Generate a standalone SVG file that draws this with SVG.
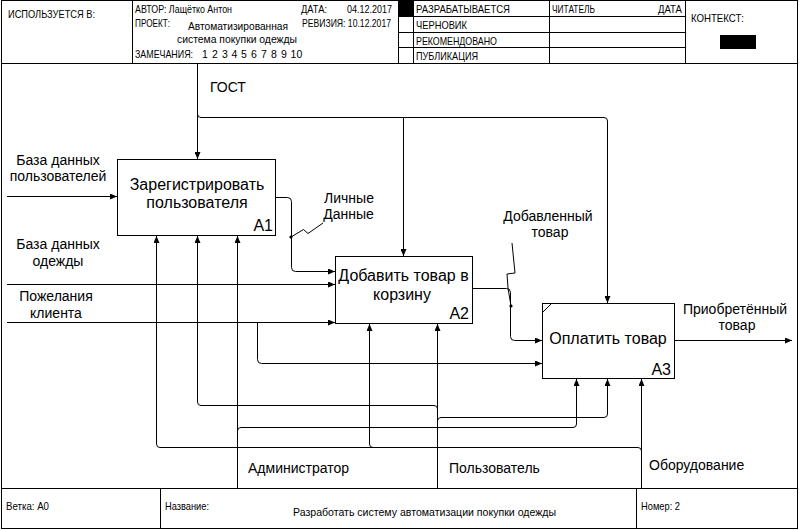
<svg xmlns="http://www.w3.org/2000/svg" width="799" height="530" viewBox="0 0 799 530">
  <defs>
    <marker id="arrow" markerUnits="userSpaceOnUse" markerWidth="8" markerHeight="6" refX="7" refY="3" orient="auto">
      <path d="M0,0 L7,3 L0,6 Z" fill="#000"/>
    </marker>
    <style>
      .frame { fill: none; stroke: #000; stroke-width: 1; }
      .rule { stroke: #000; stroke-width: 1; fill: none; }
      .hdr { font-family: "Liberation Sans", Arial, sans-serif; font-size: 10.5px; fill: #000; }
      .node rect { fill: #fff; stroke: #000; stroke-width: 1; }
      .title { font-family: "Liberation Sans", Arial, sans-serif; font-size: 16px; fill: #000; text-anchor: middle; }
      .num { font-family: "Liberation Sans", Arial, sans-serif; font-size: 16px; fill: #000; text-anchor: end; }
      .lbl { font-family: "Liberation Sans", Arial, sans-serif; font-size: 14px; fill: #000; text-anchor: middle; }
      .lbl-s { font-family: "Liberation Sans", Arial, sans-serif; font-size: 14px; fill: #000; }
      .arc { fill: none; stroke: #000; stroke-width: 1; }
      .arc-a { fill: none; stroke: #000; stroke-width: 1; marker-end: url(#arrow); }
    </style>
  </defs>

  <rect width="799" height="530" fill="#fff"/>

  <!-- Drawing frame -->
  <g id="frame">
    <rect class="frame" x="1.5" y="0.5" width="796" height="528"/>
    <line class="rule" x1="1" y1="63.5" x2="797" y2="63.5"/>
    <line class="rule" x1="1" y1="488.5" x2="797" y2="488.5"/>
    <line class="rule" x1="132.5" y1="0" x2="132.5" y2="63"/>
    <line class="rule" x1="398.5" y1="0" x2="398.5" y2="63"/>
    <line class="rule" x1="413.5" y1="0" x2="413.5" y2="63"/>
    <line class="rule" x1="549.5" y1="0" x2="549.5" y2="63"/>
    <line class="rule" x1="685.5" y1="0" x2="685.5" y2="63"/>
    <line class="rule" x1="398" y1="16.5" x2="685" y2="16.5"/>
    <line class="rule" x1="398" y1="32.5" x2="685" y2="32.5"/>
    <line class="rule" x1="398" y1="47.5" x2="685" y2="47.5"/>
    <rect x="399" y="1" width="14" height="15" fill="#000"/>
    <rect x="720" y="35" width="36" height="14" fill="#000"/>
    <line class="rule" x1="160.5" y1="488" x2="160.5" y2="529"/>
    <line class="rule" x1="636.5" y1="488" x2="636.5" y2="529"/>
  </g>

  <!-- Header texts -->
  <g id="header">
    <text class="hdr" x="8" y="18" textLength="87" lengthAdjust="spacingAndGlyphs">ИСПОЛЬЗУЕТСЯ В:</text>
    <text class="hdr" x="135" y="13" textLength="97" lengthAdjust="spacingAndGlyphs">АВТОР: Лащётко Антон</text>
    <text class="hdr" x="301" y="13" textLength="26" lengthAdjust="spacingAndGlyphs">ДАТА:</text>
    <text class="hdr" x="347" y="13" textLength="45" lengthAdjust="spacingAndGlyphs">04.12.2017</text>
    <text class="hdr" x="135" y="27" textLength="35" lengthAdjust="spacingAndGlyphs">ПРОЕКТ:</text>
    <text class="hdr" x="188" y="29.5" textLength="100" lengthAdjust="spacingAndGlyphs">Автоматизированная</text>
    <text class="hdr" x="177" y="43" textLength="120" lengthAdjust="spacingAndGlyphs">система покупки одежды</text>
    <text class="hdr" x="302" y="27" textLength="89" lengthAdjust="spacingAndGlyphs">РЕВИЗИЯ: 10.12.2017</text>
    <text class="hdr" x="135" y="58" textLength="58" lengthAdjust="spacingAndGlyphs">ЗАМЕЧАНИЯ:</text>
    <text class="hdr" x="202 212 222 231.5 241 251 261 271 281 290.5 296.5" y="58">12345678910</text>
    <text class="hdr" x="416" y="13" textLength="94" lengthAdjust="spacingAndGlyphs">РАЗРАБАТЫВАЕТСЯ</text>
    <text class="hdr" x="552" y="13" textLength="43" lengthAdjust="spacingAndGlyphs">ЧИТАТЕЛЬ</text>
    <text class="hdr" x="658" y="13" textLength="24" lengthAdjust="spacingAndGlyphs">ДАТА</text>
    <text class="hdr" x="416" y="28.5" textLength="51" lengthAdjust="spacingAndGlyphs">ЧЕРНОВИК</text>
    <text class="hdr" x="416" y="44.5" textLength="81" lengthAdjust="spacingAndGlyphs">РЕКОМЕНДОВАНО</text>
    <text class="hdr" x="416" y="60" textLength="62" lengthAdjust="spacingAndGlyphs">ПУБЛИКАЦИЯ</text>
    <text class="hdr" x="691" y="22" font-size="12" textLength="53" lengthAdjust="spacingAndGlyphs">КОНТЕКСТ:</text>
  </g>

  <!-- Footer texts -->
  <g id="footer">
    <text class="hdr" x="6" y="510" textLength="43" lengthAdjust="spacingAndGlyphs">Ветка:  A0</text>
    <text class="hdr" x="165" y="510" textLength="44" lengthAdjust="spacingAndGlyphs">Название:</text>
    <text class="hdr" x="293" y="516" textLength="263" lengthAdjust="spacingAndGlyphs">Разработать систему автоматизации покупки одежды</text>
    <text class="hdr" x="641" y="510" textLength="39" lengthAdjust="spacingAndGlyphs">Номер: 2</text>
  </g>

  <!-- Connectors -->
  <g id="connectors">
    <!-- ГОСТ (control) -->
    <path class="arc-a" d="M197.5,64 V159"/>
    <path class="arc-a" d="M197.5,114 Q197.5,117.5 201,117.5 H604 Q607.5,117.5 607.5,121 V303"/>
    <path class="arc-a" d="M403.5,117.5 V256"/>

    <!-- Inputs -->
    <path class="arc-a" d="M7,196.5 H117"/>
    <path class="arc-a" d="M7,284.5 H335"/>
    <path class="arc-a" d="M7,322.5 H335"/>
    <path class="arc-a" d="M257.5,322.5 V359.5 Q257.5,363.5 261.5,363.5 H542"/>

    <!-- Личные Данные: A1 -> A2 -->
    <path class="arc-a" d="M276,197.5 H287.5 Q291.5,197.5 291.5,201.5 V267.5 Q291.5,271.5 295.5,271.5 H335"/>
    <!-- Добавленный товар: A2 -> A3 -->
    <path class="arc-a" d="M473,288.5 H506.5 Q510.5,288.5 510.5,292.5 V336.5 Q510.5,340.5 514.5,340.5 H542"/>
    <!-- Приобретённый товар (output) -->
    <path class="arc-a" d="M675,340.5 H792"/>

    <!-- Администратор (mechanism) -->
    <path class="arc-a" d="M237.5,488 V236"/>
    <path class="arc-a" d="M237.5,431 Q237.5,427.5 241,427.5 H573 Q576.5,427.5 576.5,424 V379"/>

    <!-- Пользователь (mechanism) -->
    <path class="arc-a" d="M437.5,488 V324"/>
    <path class="arc-a" d="M437.5,409 Q437.5,405.5 434,405.5 H201 Q197.5,405.5 197.5,402 V236"/>
    <path class="arc-a" d="M437.5,421 Q437.5,417.5 441,417.5 H604 Q607.5,417.5 607.5,414 V379"/>

    <!-- Оборудование (mechanism) -->
    <path class="arc-a" d="M641.5,488 V379"/>
    <path class="arc-a" d="M641.5,451 Q641.5,447.5 638,447.5 H160 Q156.5,447.5 156.5,444 V236"/>
    <path class="arc-a" d="M373,447.5 Q369.5,447.5 369.5,444 V324"/>

    <!-- Label leaders -->
    <polyline class="arc" points="291,237 303.5,229.5 308,233.5 323,223"/>
    <circle cx="291" cy="237" r="1.6" fill="#000"/>
    <polyline class="arc" points="512,243 515,273 507,274 508,288 511,306"/>
    <circle cx="511" cy="306" r="1.6" fill="#000"/>
  </g>

  <!-- Connector labels -->
  <g id="labels">
    <text class="lbl-s" x="210" y="92">ГОСТ</text>
    <text class="lbl" x="58" y="165">База данных</text>
    <text class="lbl" x="58" y="181">пользователей</text>
    <text class="lbl" x="58" y="249">База данных</text>
    <text class="lbl" x="58" y="266">одежды</text>
    <text class="lbl" x="56" y="301">Пожелания</text>
    <text class="lbl" x="56" y="318">клиента</text>
    <text class="lbl" x="349" y="202.5">Личные</text>
    <text class="lbl" x="348.5" y="218.5">Данные</text>
    <text class="lbl" x="548" y="220.5">Добавленный</text>
    <text class="lbl" x="550" y="237">товар</text>
    <text class="lbl" x="735" y="314">Приобретённый</text>
    <text class="lbl" x="737" y="330">товар</text>
    <text class="lbl-s" x="248" y="473">Администратор</text>
    <text class="lbl-s" x="449" y="473">Пользователь</text>
    <text class="lbl-s" x="649" y="470">Оборудование</text>
  </g>

  <!-- Activity boxes -->
  <g id="A1" class="node">
    <rect x="117.5" y="159.5" width="158" height="76"/>
    <text class="title" x="197" y="190">Зарегистрировать</text>
    <text class="title" x="197" y="208">пользователя</text>
    <text class="num" x="273" y="231">A1</text>
  </g>
  <g id="A2" class="node">
    <rect x="335.5" y="256.5" width="137" height="67"/>
    <text class="title" x="403.5" y="280.5">Добавить товар в</text>
    <text class="title" x="402" y="300">корзину</text>
    <text class="num" x="469" y="319">A2</text>
  </g>
  <g id="A3" class="node">
    <rect x="542.5" y="303.5" width="132" height="75"/>
    <line x1="543" y1="312" x2="551" y2="304" stroke="#000" stroke-width="1"/>
    <text class="title" x="608" y="344">Оплатить товар</text>
    <text class="num" x="671" y="375">A3</text>
  </g>
</svg>
